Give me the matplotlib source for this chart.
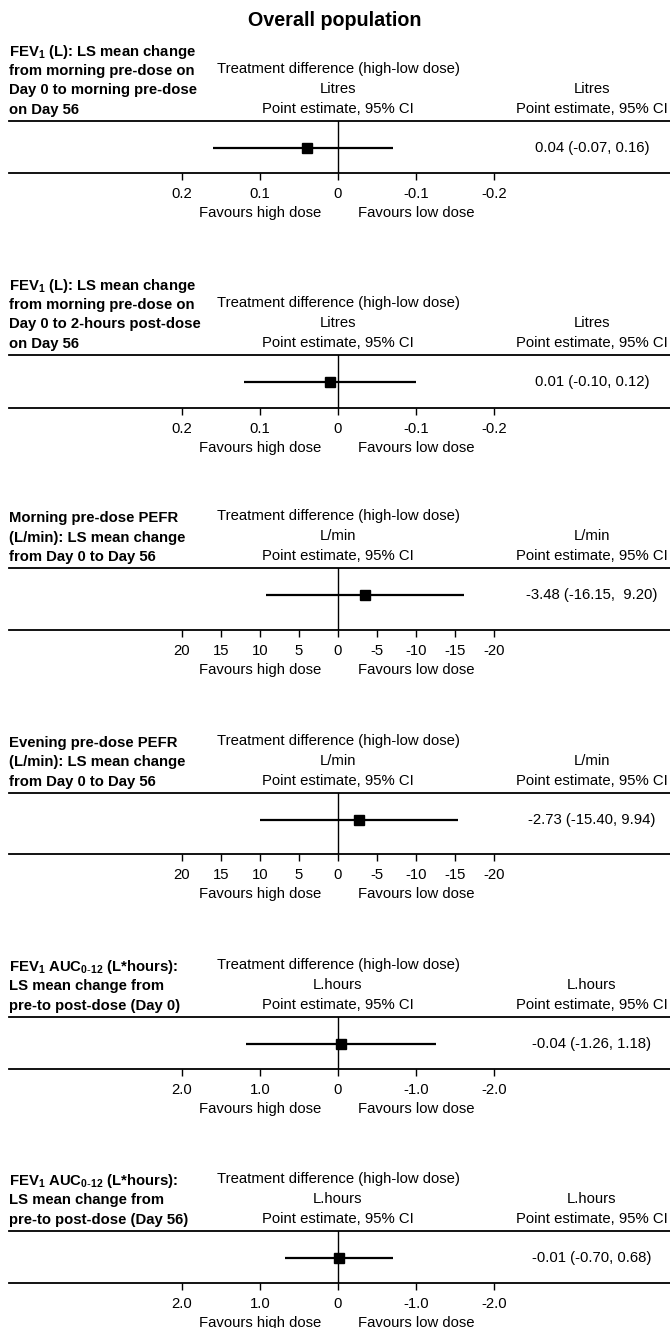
"""
Forest plots: treatment difference (high-low dose), overall population
"""
import matplotlib.pyplot as plt
from matplotlib.transforms import blended_transform_factory

plt.rcParams["font.family"] = ["Liberation Sans", "DejaVu Sans"]
plt.rcParams["mathtext.default"] = "regular"

# ---- data ----
panel_labels = [
    ["FEV$_1$ (L): LS mean change", "from morning pre-dose on",
     "Day 0 to morning pre-dose", "on Day 56"],
    ["FEV$_1$ (L): LS mean change", "from morning pre-dose on",
     "Day 0 to 2-hours post-dose", "on Day 56"],
    ["Morning pre-dose PEFR", "(L/min): LS mean change", "from Day 0 to Day 56"],
    ["Evening pre-dose PEFR", "(L/min): LS mean change", "from Day 0 to Day 56"],
    [r"FEV$_1$ AUC$_{0\text{-}12}$ (L*hours):", "LS mean change from",
     "pre-to post-dose (Day 0)"],
    [r"FEV$_1$ AUC$_{0\text{-}12}$ (L*hours):", "LS mean change from",
     "pre-to post-dose (Day 56)"],
]
units = ["Litres", "Litres", "L/min", "L/min", "L.hours", "L.hours"]
estimates = [0.04, 0.01, -3.48, -2.73, -0.04, -0.01]
ci_low = [-0.07, -0.10, -16.15, -15.40, -1.26, -0.70]
ci_high = [0.16, 0.12, 9.20, 9.94, 1.18, 0.68]
ci_text = ["0.04 (-0.07, 0.16)", "0.01 (-0.10, 0.12)", "-3.48 (-16.15,  9.20)",
           "-2.73 (-15.40, 9.94)", "-0.04 (-1.26, 1.18)", "-0.01 (-0.70, 0.68)"]
ticks_litres = [0.2, 0.1, 0, -0.1, -0.2]
labels_litres = ["0.2", "0.1", "0", "-0.1", "-0.2"]
ticks_lmin = [20, 15, 10, 5, 0, -5, -10, -15, -20]
labels_lmin = ["20", "15", "10", "5", "0", "-5", "-10", "-15", "-20"]
ticks_lh = [2.0, 1.0, 0, -1.0, -2.0]
labels_lh = ["2.0", "1.0", "0", "-1.0", "-2.0"]
panel_ticks = [ticks_litres, ticks_litres, ticks_lmin, ticks_lmin, ticks_lh, ticks_lh]
panel_tick_labels = [labels_litres, labels_litres, labels_lmin, labels_lmin,
                     labels_lh, labels_lh]

# ---- layout (pixels, measured from the top) ----
W, H = 670, 1328
LEFT, ZERO, SPAN, RIGHT_COL = 9, 338, 156, 592
rule_top = [121, 355, 568, 793, 1017, 1231]
rule_height = [52, 53, 62, 61, 52, 52]
POINT_OFF = 27
FS = 10.7


def fy(y):
    return 1 - y / H


fig = plt.figure(figsize=(W / 100, H / 100), dpi=100)
fig.text(335 / W, fy(20), "Overall population", ha="center", va="center",
         fontsize=14.2, fontweight="bold")

for i in range(6):
    top, h = rule_top[i], rule_height[i]
    ax = fig.add_axes([LEFT / W, fy(top + h), (W - LEFT) / W, h / H])
    tmax = max(panel_ticks[i])
    per_px = tmax / SPAN
    ax.set_xlim((ZERO - LEFT) * per_px, -(W - ZERO) * per_px)
    ax.set_ylim(-(h - POINT_OFF), POINT_OFF)

    ax.axvline(0, color="black", lw=1.0)
    ax.plot([ci_low[i], ci_high[i]], [0, 0], color="black", lw=1.6,
            solid_capstyle="butt")
    ax.plot([estimates[i]], [0], "s", color="black", ms=6.5)

    for side in ["left", "right"]:
        ax.spines[side].set_visible(False)
    for side in ["top", "bottom"]:
        ax.spines[side].set_linewidth(1.3)
    ax.set_yticks([])
    ax.set_xticks(panel_ticks[i], panel_tick_labels[i])
    ax.tick_params(axis="x", direction="out", length=5, width=1.0,
                   labelsize=FS, pad=5)

    # column headers
    tr = blended_transform_factory(ax.transData, fig.transFigure)
    ax.text(0, fy(top - 52), "Treatment difference (high-low dose)", transform=tr,
            ha="center", va="center", fontsize=FS)
    ax.text(0, fy(top - 32), units[i], transform=tr, ha="center", va="center",
            fontsize=FS)
    ax.text(0, fy(top - 12), "Point estimate, 95% CI", transform=tr,
            ha="center", va="center", fontsize=FS)
    xr = (RIGHT_COL - LEFT) / (W - LEFT)
    tr2 = blended_transform_factory(ax.transAxes, fig.transFigure)
    ax.text(xr, fy(top - 32), units[i], transform=tr2, ha="center",
            va="center", fontsize=FS)
    ax.text(xr, fy(top - 12), "Point estimate, 95% CI", transform=tr2,
            ha="center", va="center", fontsize=FS)
    tr3 = blended_transform_factory(ax.transAxes, ax.transData)
    ax.text(xr, 0, ci_text[i], transform=tr3, ha="center", va="center",
            fontsize=FS)

    # favours labels (shared baseline, whole pixel)
    fav_y = fy(top + h + 44)
    ax.text(tmax / 2, fav_y, "Favours high dose", transform=tr,
            ha="center", va="baseline", fontsize=FS)
    ax.text(-tmax / 2, fav_y, "Favours low dose", transform=tr,
            ha="center", va="baseline", fontsize=FS)

    # bold outcome label, last line level with "Point estimate"
    lines = panel_labels[i]
    n = len(lines)
    for k, line in enumerate(lines):
        yc = top - 12 - 19.5 * (n - 1 - k)
        fig.text(LEFT / W, fy(round(yc + 5)), line, ha="left", va="baseline",
                 fontsize=FS, fontweight="bold")

fig.savefig("out.png", dpi=100)
plt.close(fig)
